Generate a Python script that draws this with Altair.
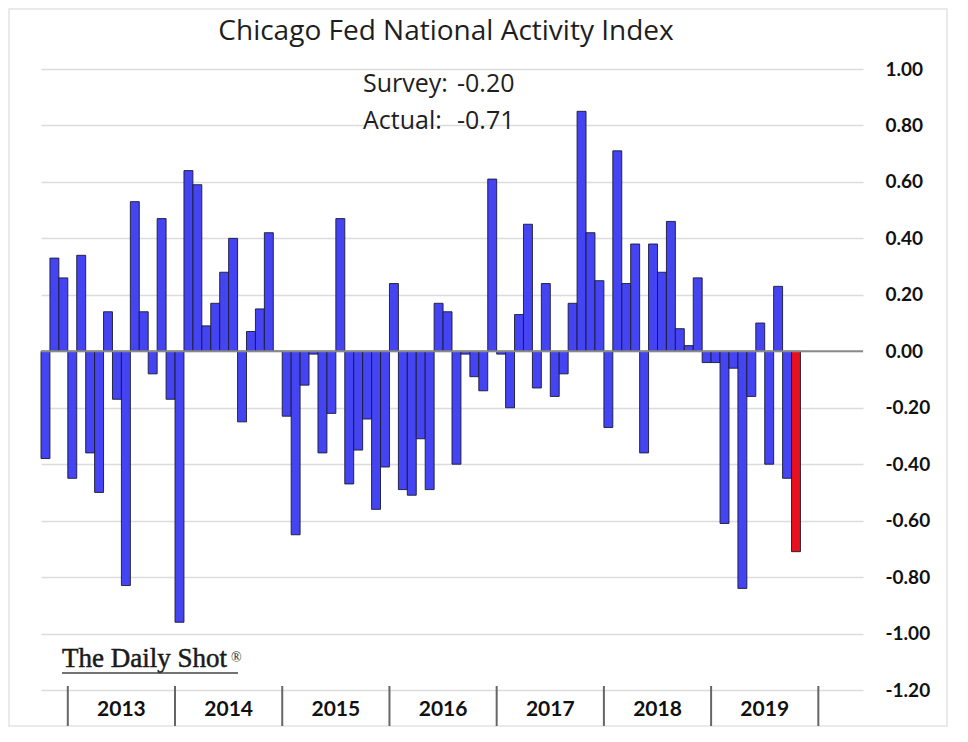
import altair as alt
import pandas as pd

# ---- data (monthly CFNAI, Oct 2012 .. Oct 2019) ----
cfnai = [
    -0.38, 0.33, 0.26,                                                   # Oct-Dec 2012
    -0.45, 0.34, -0.36, -0.50, 0.14, -0.17, -0.83, 0.53, 0.14, -0.08, 0.47, -0.17,  # 2013
    -0.96, 0.64, 0.59, 0.09, 0.17, 0.28, 0.40, -0.25, 0.07, 0.15, 0.42, 0.00,      # 2014
    -0.23, -0.65, -0.12, -0.01, -0.36, -0.22, 0.47, -0.47, -0.35, -0.24, -0.56, -0.41,  # 2015
    0.24, -0.49, -0.51, -0.31, -0.49, 0.17, 0.14, -0.40, -0.01, -0.09, -0.14, 0.61,  # 2016
    -0.01, -0.20, 0.13, 0.45, -0.13, 0.24, -0.16, -0.08, 0.17, 0.85, 0.42, 0.25,   # 2017
    -0.27, 0.71, 0.24, 0.38, -0.36, 0.38, 0.28, 0.46, 0.08, 0.02, 0.26, -0.04,    # 2018
    -0.04, -0.61, -0.06, -0.84, -0.16, 0.10, -0.40, 0.23, -0.45, -0.71,           # 2019
]
years = [2013, 2014, 2015, 2016, 2017, 2018, 2019]
year_bounds = [2013, 2014, 2015, 2016, 2017, 2018, 2019, 2020]
y_ticks = [1.0, 0.8, 0.6, 0.4, 0.2, 0.0, -0.2, -0.4, -0.6, -0.8, -1.0, -1.2]
title_text = "Chicago Fed National Activity Index"
note_labels = ["Survey:", "Actual:"]
note_values = ["-0.20", "-0.71"]
watermark = "The Daily Shot"

# ---- layout / style ----
W, H = 822, 621
N_SLOTS = 92          # month slots on the category axis
FIRST_JAN = 3         # slot index of Jan 2013 (data starts Oct 2012)
BLUE = "#4444F2"
RED = "#E8101E"
TXT = "#1e1e1e"

bars_df = pd.DataFrame({"i0": list(range(len(cfnai))), "value": cfnai})
bars_df["i1"] = bars_df["i0"] + 1
bars_df["kind"] = ["latest" if i == len(cfnai) - 1 else "prior" for i in bars_df["i0"]]

bounds_df = pd.DataFrame({"pos": [FIRST_JAN + 12 * (y - 2013) for y in year_bounds]})
years_df = pd.DataFrame({"year": [str(y) for y in years],
                         "mid": [FIRST_JAN + 12 * (y - 2013) + 6 for y in years]})

xs = alt.Scale(domain=[0, N_SLOTS], nice=False, zero=False)
ys = alt.Scale(domain=[-1.2, 1.0], nice=False, zero=False)

frame = alt.Chart(pd.DataFrame({"a": [0]})).mark_rect(
    fill="white", fillOpacity=0, stroke="#e3e3e3", strokeWidth=1.5
).encode(x=alt.value(-32), x2=alt.value(906), y=alt.value(-60), y2=alt.value(657))

zero_line = alt.Chart(pd.DataFrame({"z": [0.0]})).mark_rule(
    color="#8a8a8a", strokeWidth=2
).encode(y=alt.Y("z:Q", scale=ys), x=alt.value(0), x2=alt.value(W))

bars = alt.Chart(bars_df).mark_bar(stroke="#1a1a33", strokeWidth=0.9).encode(
    x=alt.X("i0:Q", scale=xs, axis=None),
    x2="i1",
    y=alt.Y(
        "value:Q",
        scale=ys,
        axis=alt.Axis(
            orient="right",
            values=y_ticks,
            labelExpr="replace(format(datum.value, '.2f'), '\u2212', '-')",
            grid=True,
            gridColor="#dcdcdc",
            gridWidth=1.3,
            domain=False,
            ticks=False,
            labelAlign="left",
            labelBaseline="middle",
            labelPadding=22,
            labelFont="Lato",
            labelFontWeight="bold",
            labelFontSize=19,
            labelColor="#111111",
            title=None,
        ),
    ),
    y2=alt.datum(0),
    color=alt.Color("kind:N", scale=alt.Scale(domain=["prior", "latest"], range=[BLUE, RED]), legend=None),
)

separators = alt.Chart(bounds_df).mark_rule(color="#666666", strokeWidth=2).encode(
    x=alt.X("pos:Q", scale=xs), y=alt.value(H - 4), y2=alt.value(H + 36)
)

year_labels = alt.Chart(years_df).mark_text(
    font="Lato", fontWeight="bold", fontSize=21, baseline="middle", color="#111111"
).encode(x=alt.X("mid:Q", scale=xs), y=alt.value(H + 20), text="year:N")

title = alt.Chart(pd.DataFrame({"t": [title_text]})).mark_text(
    font="Open Sans", fontSize=28, baseline="middle", align="center", color=TXT
).encode(x=alt.value(405), y=alt.value(-37), text="t:N")

note_y = [23, 60]
notes = []
for k in range(len(note_labels)):
    notes.append(alt.Chart(pd.DataFrame({"t": [note_labels[k]]})).mark_text(
        font="Open Sans", fontSize=25, align="left", baseline="alphabetic", color=TXT
    ).encode(x=alt.value(322), y=alt.value(note_y[k]), text="t:N"))
    notes.append(alt.Chart(pd.DataFrame({"t": [note_values[k]]})).mark_text(
        font="Open Sans", fontSize=25, align="left", baseline="alphabetic", color=TXT
    ).encode(x=alt.value(416), y=alt.value(note_y[k]), text="t:N"))

wm = alt.Chart(pd.DataFrame({"t": [watermark]})).mark_text(
    font="Liberation Serif", fontSize=27, align="left", baseline="alphabetic",
    color="#1a1a1a", stroke="#1a1a1a", strokeWidth=0.5
).encode(x=alt.value(21), y=alt.value(598), text="t:N")
wm_reg = alt.Chart(pd.DataFrame({"t": ["®"]})).mark_text(
    font="Liberation Serif", fontSize=14, align="left", baseline="alphabetic", color="#222222"
).encode(x=alt.value(190), y=alt.value(593), text="t:N")
wm_line = alt.Chart(pd.DataFrame({"a": [0]})).mark_rule(color="#444444", strokeWidth=1.5).encode(
    x=alt.value(21), x2=alt.value(197), y=alt.value(604)
)

chart = alt.layer(
    frame, bars, zero_line, separators, year_labels, title, *notes, wm, wm_reg, wm_line
).properties(
    width=W,
    height=H,
    autosize="none",
    padding={"left": 33, "top": 61, "right": 86, "bottom": 38},
    background="white",
).configure_view(stroke=None)

chart.save("out.html", embed_options={"renderer": "svg", "actions": False})
